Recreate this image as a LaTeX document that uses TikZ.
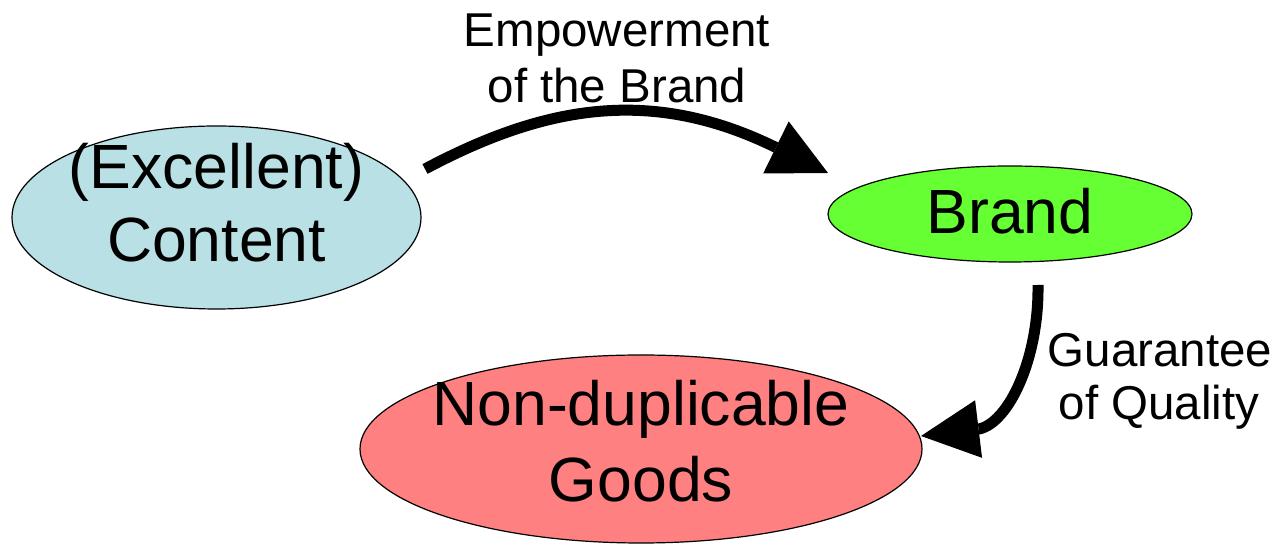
\documentclass[tikz,border=0pt]{standalone}
\usepackage{fontspec}
\setmainfont{Liberation Sans}
\usetikzlibrary{shapes.geometric,arrows.meta}
\definecolor{contentblue}{RGB}{185,224,228}
\definecolor{brandgreen}{RGB}{102,255,51}
\definecolor{goodspink}{RGB}{255,128,128}
\begin{document}
\begin{tikzpicture}[x=1pt,y=1pt,
  blob/.style={ellipse, draw=black, line width=1.2pt, inner sep=0pt},
  bigtxt/.style={anchor=base, inner sep=0pt, font=\fontsize{62.5}{76}\selectfont},
  smalltxt/.style={anchor=base, inner sep=0pt, font=\fontsize{47.5}{58}\selectfont},
  flow/.style={line width=11pt, -{Triangle[length=58pt,width=58pt,line width=0pt]}}]
\useasboundingbox (0,0) rectangle (1278,545);

% the three concepts
\node[blob, fill=contentblue, minimum width=409pt, minimum height=183pt] (content) at (216.5,327.5) {};
\node[blob, fill=brandgreen, minimum width=364pt, minimum height=96pt] (brand) at (1010,331) {};
\node[blob, fill=goodspink, minimum width=562pt, minimum height=188pt] (goods) at (641,96) {};

\node[bigtxt] (content-l1) at (216.5,356) {(Excellent)};
\node[bigtxt] (content-l2) at (216.5,283) {Content};
\node[bigtxt] (brand-l1) at (1010,311) {Brand};
\node[bigtxt] (goods-l1) at (641,119) {Non-duplicable};
\node[bigtxt] (goods-l2) at (641,43) {Goods};

% arrow labels
\node[smalltxt] (empower-l1) at (617,498) {Empowerment};
\node[smalltxt] (empower-l2) at (617,442) {of the Brand};
\node[smalltxt] (quality-l1) at (1160,178) {Guarantee};
\node[smalltxt] (quality-l2) at (1159,125) {of Quality};

% connector end points
\coordinate (empower-start) at (425,376);
\coordinate (empower-base) at (775,398);
\coordinate (empower-tip) at (828,372);
\coordinate (quality-start) at (1038,260);
\coordinate (quality-base) at (979,116);
\coordinate (quality-tip) at (921,109);

% connectors
\draw[flow] (empower-start) to[out=28,in=154] (empower-base) -- (empower-tip);
\draw[flow] (quality-start) .. controls (1039,185) and (1008,122) .. (quality-base) -- (quality-tip);
\end{tikzpicture}
\end{document}
